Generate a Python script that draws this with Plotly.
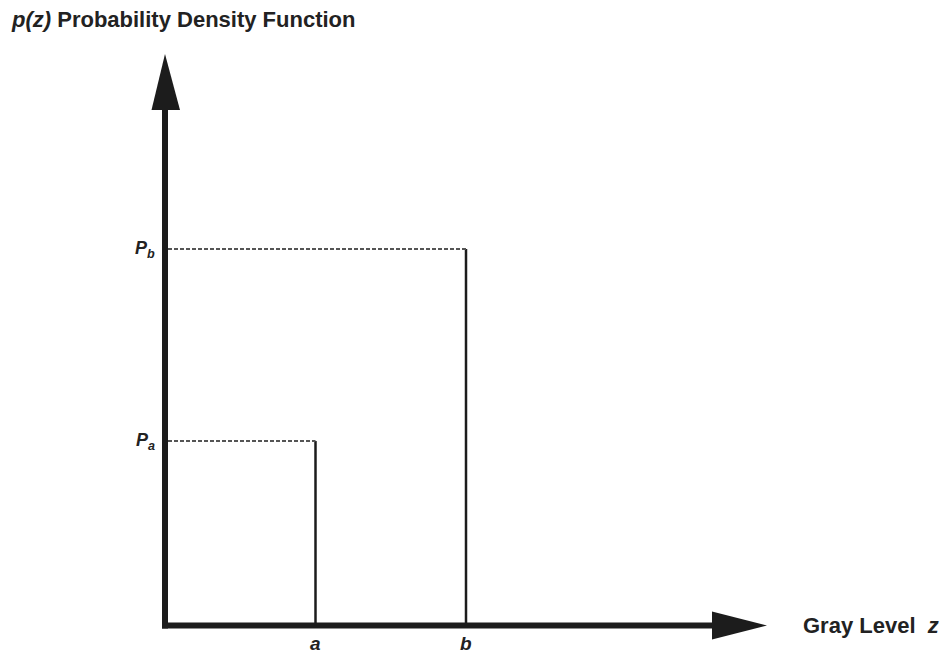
import plotly.graph_objects as go

# Impulse (salt-and-pepper) noise PDF: two spikes at gray levels a and b
levels = [1.0, 2.0]          # gray levels a, b
probs = [0.49, 1.0]          # P_a, P_b
level_labels = ["a", "b"]
prob_labels = ["<b><i>P</i></b><sub><b><i>a</i></b></sub>",
               "<b><i>P</i></b><sub><b><i>b</i></b></sub>"]

W, H = 943, 653
# canvas geometry: origin position and pixels per unit
ox, oy = 165.0, 625.5
sx, sy = 150.5, 376.5

xr = [-ox / sx, (W - ox) / sx]
yr = [-(H - oy) / sy, oy / sy]


def dx(px):
    return px / sx


def dy(px):
    return px / sy


INK = "#1c1c1c"
TXT = "#222222"
FONT = "Liberation Sans, Arial, sans-serif"

fig = go.Figure()
shapes = []

# axis shafts
y_end = dy(oy - 110)
x_end = dx(712 - ox)
shapes.append(dict(type="line", x0=0, y0=-dy(3), x1=0, y1=y_end, xref="x", yref="y",
                   line=dict(color=INK, width=6)))
shapes.append(dict(type="line", x0=-dx(3), y0=0, x1=x_end, y1=0,
                   xref="x", yref="y", line=dict(color=INK, width=6)))

# arrowheads
ytip = dy(oy - 54)
shapes.append(dict(type="path", xref="x", yref="y", fillcolor=INK, line=dict(width=0),
                   path=f"M {-dx(13.5)},{y_end} L {dx(15)},{y_end} L 0,{ytip} Z"))
xtip = dx(767 - ox)
shapes.append(dict(type="path", xref="x", yref="y", fillcolor=INK, line=dict(width=0),
                   path=f"M {x_end},{dy(14)} L {x_end},{-dy(14)} L {xtip},0 Z"))

# spikes and dashed guides to the p(z) axis
for z, p in zip(levels, probs):
    shapes.append(dict(type="line", x0=z, y0=0, x1=z, y1=p, xref="x", yref="y",
                       line=dict(color=INK, width=2.5)))
    shapes.append(dict(type="line", x0=dx(3), y0=p, x1=z, y1=p, xref="x", yref="y",
                       line=dict(color="#555555", width=2, dash="4px,2px")))

annotations = []
for z, lab in zip(levels, level_labels):
    annotations.append(dict(x=z, y=-dy(18), xref="x", yref="y",
                            text=f"<b><i>{lab}</i></b>",
                            showarrow=False, font=dict(family=FONT, size=19, color=TXT),
                            xanchor="center", yanchor="middle"))
for p, lab in zip(probs, prob_labels):
    annotations.append(dict(x=-dx(20), y=p, xref="x", yref="y", text=lab,
                            showarrow=False, font=dict(family=FONT, size=18, color=TXT),
                            xanchor="center", yanchor="middle"))

annotations.append(dict(x=xr[0] + dx(9), y=dy(oy - 19), xref="x", yref="y",
                        text="<b><i>p(z)</i> Probability Density Function</b>",
                        showarrow=False, xanchor="left", yanchor="middle",
                        font=dict(family=FONT, size=22, color=TXT)))
annotations.append(dict(x=xr[0] + dx(801), y=0, xref="x", yref="y",
                        text="<b>Gray Level  <i>z</i></b>", showarrow=False,
                        xanchor="left", yanchor="middle",
                        font=dict(family=FONT, size=22, color=TXT)))

fig.update_layout(
    width=W, height=H,
    margin=dict(l=0, r=0, t=0, b=0),
    paper_bgcolor="white", plot_bgcolor="white",
    xaxis=dict(range=xr, visible=False, fixedrange=True),
    yaxis=dict(range=yr, visible=False, fixedrange=True),
    shapes=shapes, annotations=annotations, showlegend=False,
)

fig.write_html("out.html")
